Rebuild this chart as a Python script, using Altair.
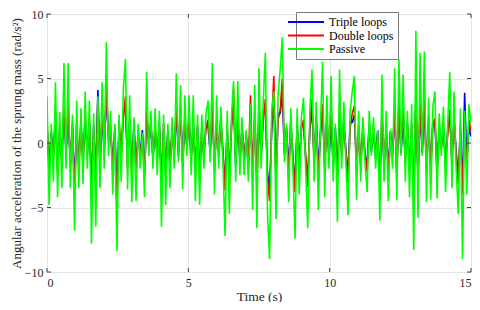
import altair as alt
import pandas as pd

DT = 0.075
passive = [
    3.6, -4.8, 1.5, -3.0, 4.7, -4.2, 2.4, -3.5, 6.2, -2.0,
    6.2, -3.5, 2.2, -6.8, 3.3, -3.5, 2.7, -3.2, 4.0, -2.0,
    3.3, -7.8, 2.3, -6.5, 3.6, -3.5, 4.7, -2.0, 7.8, -1.0,
    2.5, -4.0, 1.5, -8.4, 2.2, -3.0, 4.2, 6.5, -3.6, 3.7,
    -4.6, 2.0, -4.5, 1.5, -2.0, 0.8, -4.2, 5.5, -1.0, 2.5,
    -2.0, 2.7, -2.5, 2.5, -6.5, 2.2, -4.8, 1.5, -3.5, 2.0,
    -2.0, 5.4, -1.5, 4.5, -3.6, 3.7, -1.0, 3.7, -2.5, 3.7,
    -4.5, 2.2, -4.8, 2.2, -2.0, 2.2, 3.3, -1.5, 6.2, -4.0,
    3.7, -2.0, 2.8, -1.5, -7.2, 2.5, -5.5, 2.0, 4.8, -3.0,
    4.8, -2.5, 2.0, -2.5, 1.0, -3.0, 3.0, -5.2, 4.5, -6.6,
    5.8, -2.0, 3.2, 7.0, -5.4, -9.0, 2.5, 4.0, -5.9, 3.8,
    5.7, 8.2, -1.5, 1.5, -4.6, 2.7, -2.0, -7.4, 2.7, -4.0,
    2.0, 3.5, -2.0, -6.6, 2.5, 5.7, -3.0, 3.2, -5.2, 1.5,
    6.3, -4.2, 3.7, -2.0, 5.2, -3.0, 1.5, -6.1, 5.7, -2.0,
    3.2, -1.5, -5.6, 2.5, 4.0, 5.2, -4.4, 2.5, -3.0, 2.0,
    -1.5, -3.8, 2.5, -1.0, 2.0, -2.0, 1.0, -6.0, 5.3, -3.0,
    2.5, -4.5, 1.0, -2.0, 5.8, -4.4, 6.5, -1.0, 5.3, -3.0,
    2.5, -4.2, 3.0, -8.3, 8.7, -5.8, 7.0, -1.0, 7.1, -4.6,
    3.5, -4.4, 2.8, 4.0, -4.3, 2.3, -1.0, 2.8, -3.8, 1.5,
    5.5, -3.5, 4.0, -2.0, -5.5, 2.7, -9.0, 2.5, -4.0, 3.0, 1.5,
]
double_loops = [
    1.8, -2.3, 0.6, -1.2, 2.4, -2.5, 1.4, -1.5, 3.1, -0.6,
    2.8, -1.4, 1.1, -4.2, 1.6, -2.0, 1.2, -1.7, 2.2, -0.5,
    1.5, -3.8, 1.0, -3.2, 3.3, -1.8, 2.6, -0.4, 4.5, 0.2,
    1.3, -2.1, 0.8, -5.0, 1.8, -1.2, 1.8, 3.6, -2.0, 1.9,
    -2.8, 1.1, -2.2, 1.0, -1.0, 0.4, -2.6, 2.5, 0.3, 1.6,
    -0.9, 1.3, -1.4, 1.1, -3.4, 1.5, -2.6, 0.7, -1.8, 1.1,
    -1.2, 3.0, -0.6, 2.2, -1.9, 2.0, 0.0, 1.6, -1.6, 1.9,
    -2.4, 1.0, -2.9, 1.2, -0.8, 1.1, 1.8, -0.4, 3.2, -2.2,
    1.8, -1.1, 1.5, -0.5, -3.7, 1.4, -3.0, 1.0, 4.2, -1.4,
    2.3, -1.2, 0.9, -1.4, 0.7, -1.5, 3.7, -2.6, 2.3, -3.4,
    2.9, -0.8, 1.6, 3.4, -2.8, -4.5, 1.6, 5.2, -3.0, 1.8,
    2.5, 5.0, -0.5, 0.8, -2.5, 1.4, -0.9, -3.8, 1.1, -2.0,
    1.0, 1.8, -0.8, -3.4, 1.5, 3.4, -1.6, 1.5, -2.6, 0.6,
    3.0, -2.2, 1.7, -0.9, 2.8, -1.4, 0.7, -3.0, 3.1, -1.1,
    1.4, -0.8, -3.1, 1.2, 2.3, 2.9, -2.4, 1.3, -1.4, 0.9,
    -0.7, -2.2, 1.1, -0.3, 1.2, -1.2, 0.6, -3.3, 2.4, -1.4,
    1.3, -2.3, 0.5, -1.0, 2.8, -2.8, 3.2, -0.4, 2.6, -1.5,
    1.2, -2.3, 1.5, -4.9, 3.8, -3.0, 3.0, -0.5, 3.4, -2.4,
    2.0, -2.2, 1.3, 1.9, -2.5, 1.0, -0.5, 1.6, -1.9, 0.6,
    2.6, -1.7, 1.7, -1.0, -3.2, 1.5, -4.0, 1.5, -1.9, 1.8, 0.9,
]
triple_loops = [
    1.2, -1.6, 0.9, -1.0, 1.9, -2.0, 1.0, -1.1, 2.6, -0.9,
    2.3, -1.8, 1.5, -3.0, 1.0, -1.4, 1.6, -1.2, 1.8, -1.0,
    1.7, -3.0, 1.4, -2.6, 4.1, -2.0, 2.2, -0.8, 3.8, 0.5,
    1.0, -1.6, 1.2, -3.9, 1.2, -0.8, 2.4, 2.8, -1.5, 1.6,
    -2.2, 1.6, -1.8, 0.6, -0.8, 1.0, -2.4, 2.2, -0.2, 1.3,
    -1.2, 1.0, -0.9, 1.6, -2.9, 1.0, -2.1, 1.0, -1.5, 0.7,
    -0.7, 2.5, -1.0, 2.8, -1.3, 1.5, -0.4, 2.0, -1.0, 1.4,
    -2.0, 1.4, -2.2, 0.8, -1.1, 1.5, 1.2, -0.8, 2.6, -1.7,
    1.4, -0.8, 2.0, -1.0, -3.0, 0.9, -2.5, 1.3, 3.3, -1.8,
    1.8, -1.5, 1.3, -1.0, 0.4, -2.0, 2.0, -2.2, 1.9, -2.8,
    2.2, -1.2, 2.4, 2.9, -2.3, -3.6, 1.0, 3.1, -2.4, 2.3,
    2.3, 3.9, -0.9, 1.2, -2.1, 1.8, -1.3, -3.1, 1.5, -1.6,
    1.3, 1.4, -1.2, -2.6, 1.0, 2.7, -1.2, 2.1, -2.0, 0.9,
    2.4, -1.7, 2.2, -1.3, 2.0, -1.9, 1.2, -2.4, 2.2, -0.7,
    1.8, -0.6, -2.4, 1.6, 1.6, 2.2, -1.8, 0.8, -1.8, 1.3,
    -1.0, -1.6, 1.5, -0.7, 0.7, -0.8, 1.0, -2.8, 2.0, -1.9,
    1.0, -2.0, 0.9, -0.6, 2.3, -2.2, 2.5, -0.8, 2.0, -1.2,
    1.6, -1.8, 1.0, -3.6, 3.2, -2.6, 2.5, -0.8, 3.0, -1.9,
    1.4, -1.8, 1.7, 1.5, -2.0, 1.4, -0.3, 1.1, -1.4, 1.0,
    2.0, -1.3, 1.9, -0.6, -2.6, 1.0, -3.5, 3.9, -1.4, 1.2, 0.5,
]

series_names = ["Triple loops", "Double loops", "Passive"]
series_colors = ["#0000FF", "#FF0000", "#00FF00"]
x_ticks = [0, 5, 10, 15]
y_ticks = [-10, -5, 0, 5, 10]

rows = []
for order, (name, vals) in enumerate(zip(series_names, [triple_loops, double_loops, passive])):
    for i, v in enumerate(vals):
        rows.append({"t": round(i * DT, 4), "v": v, "series": name, "ord": order})
df = pd.DataFrame(rows)

W, H = 424, 258
FONT = "Liberation Serif, Times New Roman, serif"
TXT = "#262626"

xscale = alt.Scale(domain=[0, 15], nice=False, zero=False)
yscale = alt.Scale(domain=[-10, 10], nice=False, zero=False)

lines = alt.Chart(df).mark_line(strokeWidth=1.6, clip=True).encode(
    x=alt.X("t:Q", scale=xscale, title="Time (s)",
            axis=alt.Axis(values=x_ticks, grid=True, gridColor="#e3e3e3", ticks=False,
                          domain=False, labelPadding=5, titlePadding=1,
                          labelFont=FONT, labelFontSize=12, titleFont=FONT,
                          titleFontSize=13.5, titleFontWeight="normal",
                          labelColor=TXT, titleColor=TXT)),
    y=alt.Y("v:Q", scale=yscale,
            title="Angular acceleration of the sprung mass (rad/s²)",
            axis=alt.Axis(values=y_ticks, grid=True, gridColor="#e3e3e3", ticks=False,
                          domain=False, labelPadding=4, titlePadding=1,
                          labelFont=FONT, labelFontSize=12, titleFont=FONT,
                          titleFontSize=13, titleFontWeight="normal",
                          labelColor=TXT, titleColor=TXT)),
    color=alt.Color("series:N",
                    scale=alt.Scale(domain=series_names, range=series_colors),
                    legend=alt.Legend(title=None, orient="none", legendX=249, legendY=-2,
                                      symbolType="M-4,0H4", symbolSize=81,
                                      symbolStrokeWidth=2, labelFont=FONT,
                                      labelFontSize=12, labelColor="#000000",
                                      rowPadding=1.5, padding=4,
                                      strokeColor="#7a7a7a", fillColor="#ffffff",
                                      symbolOffset=0, labelOffset=17)),
    order=alt.Order("ord:Q"),
    detail="series:N",
)

xt = pd.DataFrame({"x": x_ticks})
yt = pd.DataFrame({"y": y_ticks})
tick_color = "#404040"
bx = alt.Chart(xt).mark_rule(color=tick_color, strokeWidth=1).encode(
    x=alt.X("x:Q", scale=xscale), y=alt.value(H), y2=alt.value(H - 4))
tx = alt.Chart(xt).mark_rule(color=tick_color, strokeWidth=1).encode(
    x=alt.X("x:Q", scale=xscale), y=alt.value(0), y2=alt.value(4))
ly = alt.Chart(yt).mark_rule(color=tick_color, strokeWidth=1).encode(
    y=alt.Y("y:Q", scale=yscale), x=alt.value(0), x2=alt.value(4))
ry = alt.Chart(yt).mark_rule(color=tick_color, strokeWidth=1).encode(
    y=alt.Y("y:Q", scale=yscale), x=alt.value(W), x2=alt.value(W - 4))

chart = alt.layer(lines, bx, tx, ly, ry).properties(
    width=W, height=H,
    autosize=alt.AutoSizeParams(type="none"),
    padding={"left": 39, "top": 6, "right": 1, "bottom": 30},
).configure_view(stroke="#404040", strokeWidth=1).configure(background="white")

chart.save("out.html", embed_options={"renderer": "svg", "actions": False})
